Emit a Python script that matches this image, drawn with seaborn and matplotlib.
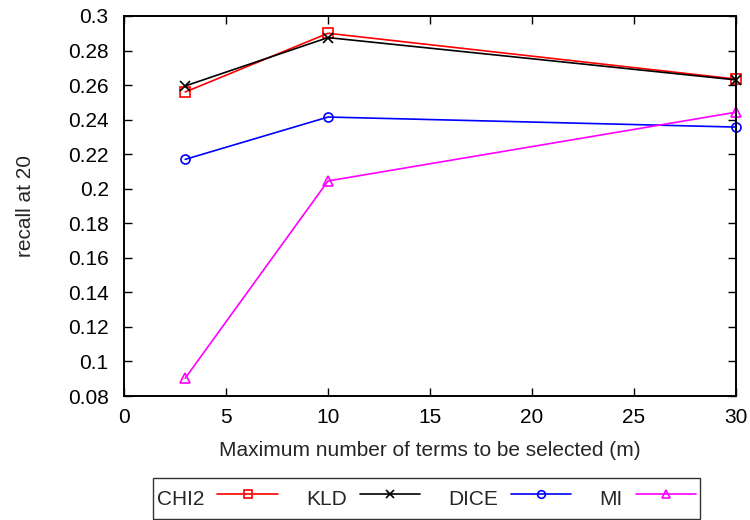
import matplotlib
matplotlib.use("Agg")
import matplotlib.pyplot as plt
import seaborn as sns
import pandas as pd

m_values = [3, 10, 30]
chi2 = [0.256, 0.290, 0.2635]
kld = [0.2595, 0.2875, 0.263]
dice = [0.217, 0.2415, 0.2357]
mi = [0.0903, 0.2045, 0.2443]

series_names = ["CHI2", "KLD", "DICE", "MI"]
series_values = [chi2, kld, dice, mi]
colors = ["#ff0000", "#000000", "#0000ff", "#ff00ff"]
markers = ["s", "x", "o", "^"]

xticks = [0, 5, 10, 15, 20, 25, 30]
yticks = [0.08, 0.1, 0.12, 0.14, 0.16, 0.18, 0.2, 0.22, 0.24, 0.26, 0.28, 0.3]
ytick_labels = ["0.08", "0.1", "0.12", "0.14", "0.16", "0.18", "0.2", "0.22", "0.24", "0.26", "0.28", "0.3"]

sns.set_style("ticks")
plt.rcParams["font.family"] = ["Liberation Sans", "DejaVu Sans"]

FS = 15

fig = plt.figure(figsize=(7.5, 5.2), dpi=100)
ax = fig.add_axes([124/750, 1-396/520, (736-124)/750, (396-16)/520])

for name, vals, c, mk in zip(series_names, series_values, colors, markers):
    df = pd.DataFrame({"m": m_values, "v": vals})
    sns.lineplot(data=df, x="m", y="v", ax=ax, color=c, marker=mk, markersize=6.5,
                 markerfacecolor="none", markeredgecolor=c, markeredgewidth=1.2,
                 linewidth=1.2, label=name, clip_on=False)

ax.set_xlim(0, 30)
ax.set_ylim(0.08, 0.3)
ax.set_xticks(xticks)
ax.set_xticklabels([str(t) for t in xticks])
ax.set_yticks(yticks)
ax.set_yticklabels(ytick_labels)
ax.tick_params(direction="in", length=6, width=1.0, top=True, right=True,
               labelsize=FS, colors="#000000")
ax.tick_params(axis="x", pad=8.5)
ax.tick_params(axis="y", pad=11)
for sp in ax.spines.values():
    sp.set_visible(True)
    sp.set_color("#000000")
    sp.set_linewidth(1.4)

ax.set_xlabel("Maximum number of terms to be selected (m)", fontsize=FS, labelpad=10)
ax.set_ylabel("recall at 20", fontsize=FS, labelpad=24)

ax.get_legend().remove()
handles, labels = ax.get_legend_handles_labels()
leg = fig.legend(handles, labels, loc="upper left", bbox_to_anchor=(153/750, 1-478/520),
                 ncol=4, markerfirst=False, frameon=True, fancybox=False,
                 edgecolor="#000000", fontsize=FS, handlelength=2.9,
                 handleheight=2.0, markerscale=0.85,
                 columnspacing=1.35, handletextpad=0.62, borderpad=0.2,
                 borderaxespad=0)
leg.get_frame().set_linewidth(1.0)

fig.savefig("out.png", dpi=100)
